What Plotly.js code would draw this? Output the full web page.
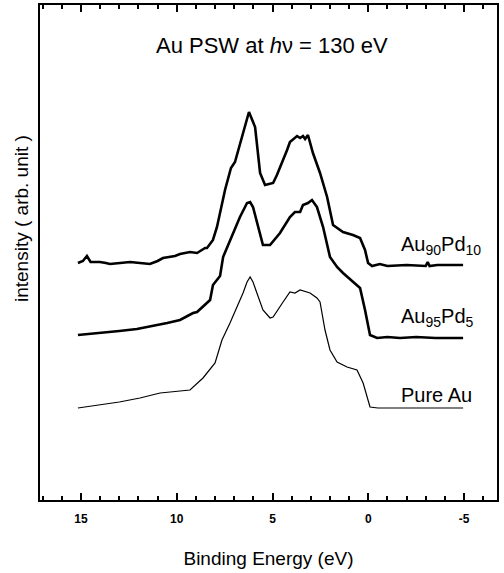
<!DOCTYPE html>
<html>
<head>
<meta charset="utf-8">
<script src="https://cdn.plot.ly/plotly-3.0.1.min.js"></script>
<style>html,body{margin:0;padding:0;background:#fff;}#chart{width:504px;height:573px;}</style>
</head>
<body>
<div id="chart"></div>
<script>
// Binding energy (eV) and intensity (arb. unit)
const auPd10_x = [15.16,14.9,14.69,14.5,14.37,14.01,13.7,13.49,12.96,12.44,11.92,11.4,11.0,10.72,10.09,9.83,9.31,8.94,8.52,8.42,8.11,7.9,7.48,7.17,6.96,6.59,6.23,5.91,5.65,5.39,4.97,4.77,4.61,4.24,4.09,3.72,3.56,3.41,3.3,3.15,2.89,2.52,2.15,1.84,1.32,0.8,0.43,0.17,0.01,-0.2,-0.6,-1.0,-2.0,-3.0,-3.1,-3.2,-3.6,-4.0,-4.95];
const auPd10_y = [237,239,244,238,238,238,237,236,237,238,237,236,239,242,244,246,248,247,252,252,260,273,310,332,338,363,388,373,327,315,317,325,332,350,358,364,362,364,361,365,347,327,303,275,268,265,262,250,237,234,236,234,235,234,238,234,235,235,235];

const auPd5_x = [15.16,14.5,13.85,13.0,12.08,11.5,11.03,10.5,9.83,9.15,8.94,8.26,8.11,7.74,7.58,7.22,6.7,6.33,6.17,6.02,5.5,5.13,4.61,4.09,3.83,3.56,3.41,3.15,2.94,2.68,2.36,2.0,1.63,1.32,0.8,0.43,0.17,-0.09,-0.46,-1.0,-1.66,-2.5,-3.5,-4.95];
const auPd5_y = [165,166,167,169,171,173,175,177,180,187,188,200,215,224,243,260,283,297,298,293,255,255,267,283,288,288,295,297,300,293,273,243,233,227,218,212,190,165,162,163,162,163,162,162];

const pureAu_x = [15.16,14.0,13.0,11.92,10.87,9.31,8.63,8.0,7.64,7.22,6.85,6.54,6.33,6.17,6.02,5.65,5.5,5.13,4.97,4.45,4.09,3.83,3.56,3.04,2.68,2.52,2.26,2.0,1.63,1.11,0.59,0.27,-0.09,-0.5,-4.95];
const pureAu_y = [92,95,98,102,107,110,122,137,160,177,193,207,218,223,218,197,190,182,183,198,208,207,210,207,202,198,170,150,138,133,130,117,93,92,92];

const seriesLabels = ['Au<sub>90</sub>Pd<sub>10</sub>', 'Au<sub>95</sub>Pd<sub>5</sub>', 'Pure Au'];
const tickVals = [15, 10, 5, 0, -5];
const tickText = ['15', '10', '5', '0', '-5'];
const minorTickVals = [16,14,13,12,11,9,8,7,6,4,3,2,1,-1,-2,-3,-4,-6];

const xRange = [17.14, -6.72];

const traces = [
  {x: auPd10_x, y: auPd10_y, mode: 'lines', line: {color: '#000', width: 2.6}, hoverinfo: 'skip'},
  {x: auPd5_x, y: auPd5_y, mode: 'lines', line: {color: '#000', width: 2.6}, hoverinfo: 'skip'},
  {x: pureAu_x, y: pureAu_y, mode: 'lines', line: {color: '#000', width: 1.2}, hoverinfo: 'skip'}
];

const font = 'Liberation Sans, Arial, sans-serif';
const layout = {
  width: 504, height: 573,
  margin: {l: 40, r: 7, t: 5, b: 73},
  showlegend: false,
  paper_bgcolor: '#fff', plot_bgcolor: '#fff',
  font: {family: font, color: '#000'},
  xaxis: {
    range: xRange, showgrid: false, zeroline: false,
    showline: true, linecolor: '#000', linewidth: 2, mirror: 'allticks',
    ticks: 'inside', ticklen: 7, tickwidth: 2, tickcolor: '#000',
    tickmode: 'array', tickvals: tickVals, ticktext: tickText,
    ticklabelstandoff: 7,
    tickfont: {size: 12, family: font, weight: 'bold'},
    minor: {ticks: 'inside', tickmode: 'linear', tick0: 0, dtick: 1, ticklen: 4, tickwidth: 2, tickcolor: '#000', showgrid: false},
    title: {text: 'Binding Energy (eV)', font: {size: 19, family: font}, standoff: 26}
  },
  yaxis: {
    range: [0, 495], showgrid: false, zeroline: false, showticklabels: false,
    showline: true, linecolor: '#000', linewidth: 2, mirror: true, ticks: ''
  },
  annotations: [
    {xref: 'x', yref: 'y', x: 5.03, y: 455, text: 'Au PSW at <i>h</i>ν = 130 eV', showarrow: false, font: {size: 22, family: font}},
    {xref: 'paper', yref: 'paper', x: -0.039, y: 0.568, text: 'intensity ( arb. unit )', textangle: -90, showarrow: false, font: {size: 19, family: font}, xanchor: 'center', yanchor: 'middle'},
    {xref: 'x', yref: 'y', x: -1.6, y: 255, text: seriesLabels[0], showarrow: false, xanchor: 'left', font: {size: 20, family: font}},
    {xref: 'x', yref: 'y', x: -1.6, y: 183, text: seriesLabels[1], showarrow: false, xanchor: 'left', font: {size: 20, family: font}},
    {xref: 'x', yref: 'y', x: -1.6, y: 105, text: seriesLabels[2], showarrow: false, xanchor: 'left', font: {size: 20, family: font}}
  ]
};

Plotly.newPlot('chart', traces, layout, {displayModeBar: false, staticPlot: true});
</script>
</body>
</html>
